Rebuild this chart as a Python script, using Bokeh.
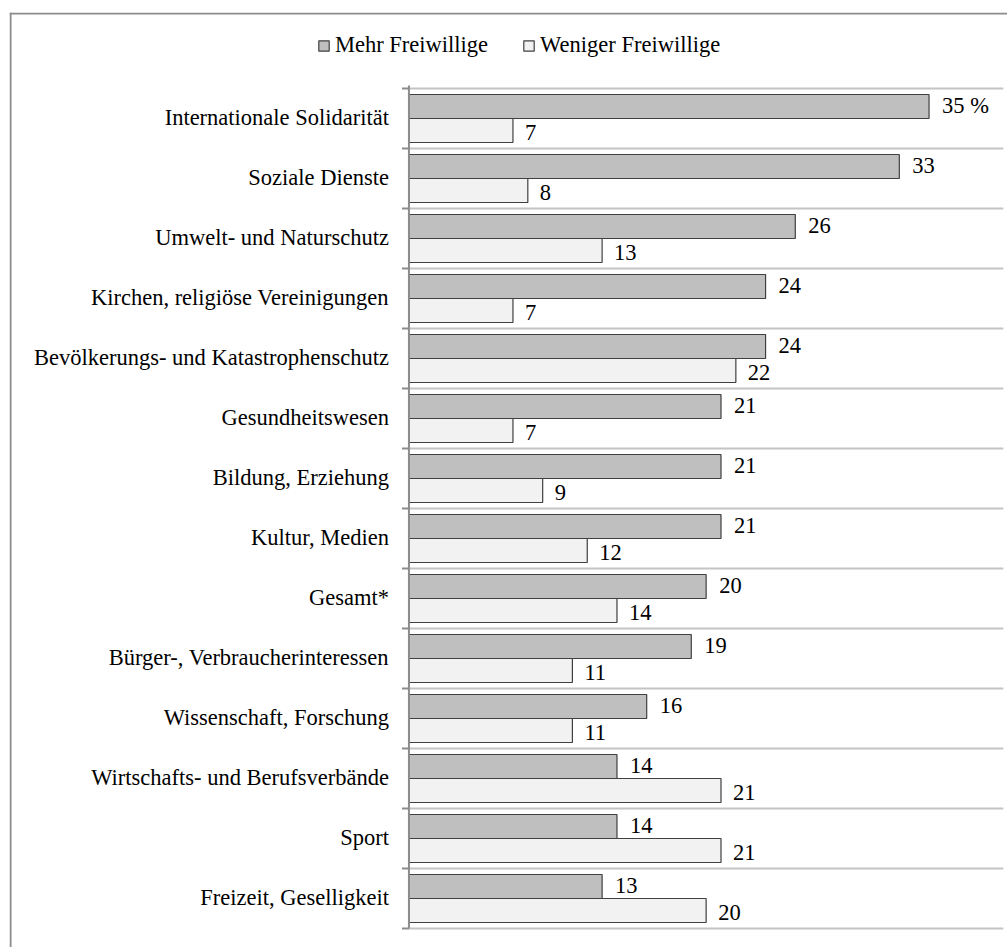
from bokeh.plotting import figure
from bokeh.models import ColumnDataSource, Range1d, Legend, LegendItem, Span
from bokeh.core.properties import value
from bokeh.embed import file_html
from bokeh.resources import INLINE

categories = [
    "Internationale Solidarität",
    "Soziale Dienste",
    "Umwelt- und Naturschutz",
    "Kirchen, religiöse Vereinigungen",
    "Bevölkerungs- und Katastrophenschutz",
    "Gesundheitswesen",
    "Bildung, Erziehung",
    "Kultur, Medien",
    "Gesamt*",
    "Bürger-, Verbraucherinteressen",
    "Wissenschaft, Forschung",
    "Wirtschafts- und Berufsverbände",
    "Sport",
    "Freizeit, Geselligkeit",
]
mehr = [35, 33, 26, 24, 24, 21, 21, 21, 20, 19, 16, 14, 14, 13]
weniger = [7, 8, 13, 7, 22, 7, 9, 12, 14, 11, 11, 21, 21, 20]
mehr_labels = ["35 %"] + [str(v) for v in mehr[1:]]
weniger_labels = [str(v) for v in weniger]
series_names = ["Mehr Freiwillige", "Weniger Freiwillige"]

FONT = value("Liberation Serif")
FS = "22.5px"
n = len(categories)
idx = list(range(n))

src = ColumnDataSource(dict(
    cat=categories,
    mehr=mehr,
    weniger=weniger,
    mlab=mehr_labels,
    wlab=weniger_labels,
    ym=[i + 0.3 for i in idx],
    yw=[i + 0.7 for i in idx],
    yc=[i + 0.5 for i in idx],
    zero=[0] * n,
))

p = figure(
    width=1007, height=947,
    x_range=Range1d(-26.88, 40.28),
    y_range=Range1d((947 - 88) / 60.0, (12 - 88) / 60.0),
    x_axis_type=None, y_axis_type=None,
    toolbar_location=None, output_backend="svg",
    min_border_left=9, min_border_top=12, min_border_right=0, min_border_bottom=0,
)
p.outline_line_color = None
p.xgrid.visible = False
p.ygrid.visible = False
p.background_fill_color = "white"

# outer frame (left and top edges visible; the rest is cut off in the original)
p.add_layout(Span(location=-26.81, dimension="height", line_color="#8c8c8c", line_width=2))
p.add_layout(Span(location=-1.25, dimension="width", line_color="#8c8c8c", line_width=2))

# horizontal gridlines at category boundaries
bounds = list(range(n + 1))
p.segment(x0=[0] * (n + 1), x1=[40] * (n + 1), y0=bounds, y1=bounds,
          line_color="#c4c4c4", line_width=2)
# tick marks
p.segment(x0=[-0.47] * (n + 1), x1=[0] * (n + 1), y0=bounds, y1=bounds,
          line_color="#8c8c8c", line_width=2)

r1 = p.hbar(y="ym", left="zero", right="mehr", height=0.4, source=src,
            fill_color="#bfbfbf", line_color="#404040", line_width=1.2)
r2 = p.hbar(y="yw", left="zero", right="weniger", height=0.4, source=src,
            fill_color="#f2f2f2", line_color="#404040", line_width=1.2)

# axis line
p.segment(x0=[0], x1=[0], y0=[-0.05], y1=[n], line_color="#8c8c8c", line_width=2)

# value labels
p.text(x="mehr", y="ym", text="mlab", source=src, x_offset=13, y_offset=-1,
       text_align="left", text_baseline="middle", text_font=FONT,
       text_font_size=FS, text_color="#000000")
p.text(x="weniger", y="yw", text="wlab", source=src, x_offset=12, y_offset=2,
       text_align="left", text_baseline="middle", text_font=FONT,
       text_font_size=FS, text_color="#000000")
# category labels
p.text(x="zero", y="yc", text="cat", source=src, x_offset=-20, y_offset=-1,
       text_align="right", text_baseline="middle", text_font=FONT,
       text_font_size=FS, text_color="#000000")

legend = Legend(
    items=[LegendItem(label=series_names[0], renderers=[r1]),
           LegendItem(label=series_names[1], renderers=[r2])],
    orientation="horizontal", location=(308, 889),
    glyph_width=13, glyph_height=13, label_standoff=5, spacing=34,
    padding=0, margin=0, label_height=26,
    label_text_font="Liberation Serif", label_text_font_size=FS,
    label_text_color="#000000",
    border_line_alpha=0, background_fill_alpha=0,
)
p.add_layout(legend, "center")

open("out.html", "w").write(file_html(p, INLINE))
